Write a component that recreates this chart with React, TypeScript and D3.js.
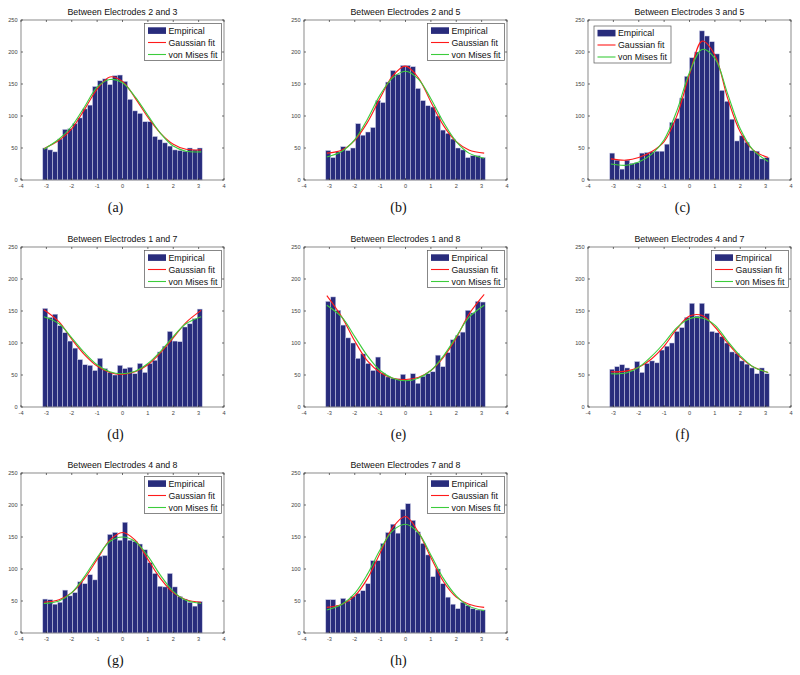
import React from "react";
import * as d3 from "d3";

const titles = [
  "Between Electrodes 2 and 3",
  "Between Electrodes 2 and 5",
  "Between Electrodes 3 and 5",
  "Between Electrodes 1 and 7",
  "Between Electrodes 1 and 8",
  "Between Electrodes 4 and 7",
  "Between Electrodes 4 and 8",
  "Between Electrodes 7 and 8",
];
const panelLabels = ["(a)", "(b)", "(c)", "(d)", "(e)", "(f)", "(g)", "(h)"];
const legendSide = ["ne", "ne", "nw", "ne", "ne", "ne", "ne", "ne"];

const xTicks = [-4, -3, -2, -1, 0, 1, 2, 3, 4];
const yTicks = [0, 50, 100, 150, 200, 250];
const legendItems = ["Empirical", "Gaussian fit", "von Mises fit"];

// 32 histogram bins over [-pi, pi]
const countsA = [50, 47, 44, 64, 79, 80, 88, 97, 111, 117, 146, 155, 158, 149, 163, 164, 154, 126, 108, 104, 91, 91, 68, 63, 58, 53, 47, 46, 45, 50, 47, 50];
const countsB = [46, 35, 44, 52, 46, 50, 88, 70, 75, 82, 124, 121, 153, 171, 165, 179, 179, 177, 143, 124, 116, 114, 100, 78, 73, 64, 50, 47, 35, 38, 38, 35];
const countsC = [42, 31, 17, 31, 26, 27, 42, 43, 44, 45, 45, 56, 90, 96, 128, 162, 191, 200, 233, 225, 216, 197, 140, 123, 95, 61, 69, 59, 46, 45, 33, 35];
const countsD = [154, 140, 145, 127, 116, 103, 92, 74, 66, 65, 57, 76, 60, 54, 50, 65, 60, 62, 52, 68, 54, 68, 73, 86, 95, 118, 103, 102, 125, 130, 138, 153];
const countsE = [165, 172, 151, 128, 108, 100, 76, 83, 68, 57, 78, 53, 47, 45, 44, 51, 43, 52, 37, 48, 52, 55, 81, 63, 85, 105, 112, 117, 151, 147, 165, 164];
const countsF = [59, 63, 66, 61, 57, 71, 54, 68, 72, 69, 89, 95, 100, 118, 124, 140, 162, 142, 162, 146, 118, 116, 110, 100, 86, 84, 72, 67, 61, 52, 61, 52];
const countsG = [53, 52, 45, 48, 67, 58, 63, 80, 77, 91, 83, 120, 121, 154, 157, 145, 173, 145, 143, 139, 130, 110, 93, 73, 72, 93, 72, 57, 53, 48, 42, 49];
const countsH = [52, 52, 43, 54, 50, 57, 62, 66, 77, 113, 113, 140, 157, 170, 156, 193, 202, 176, 158, 140, 122, 88, 100, 77, 56, 45, 38, 48, 43, 38, 36, 36];

// fitted curves read at these angles
const curveX = [-3.1, -2.5, -2, -1.5, -1, -0.5, 0, 0.5, 1, 1.5, 2, 2.5, 3.1];
const gaussA = [49, 62, 80, 110, 142, 161, 154, 128, 98, 73, 56, 48, 47];
const vonA = [48, 64, 84, 114, 145, 157, 152, 130, 101, 73, 53, 45, 44];
const gaussB = [42, 47, 62, 90, 128, 163, 178, 160, 122, 85, 60, 47, 42];
const vonB = [36, 45, 63, 95, 133, 160, 170, 158, 127, 90, 60, 42, 34];
const gaussC = [33, 31, 35, 44, 60, 100, 165, 217, 195, 128, 75, 47, 35];
const vonC = [25, 23, 28, 40, 63, 108, 168, 204, 190, 135, 80, 47, 29];
const gaussD = [152, 133, 106, 82, 64, 54, 51, 55, 66, 85, 108, 132, 151];
const vonD = [141, 130, 108, 85, 66, 55, 52, 56, 68, 87, 110, 130, 141];
const gaussE = [174, 140, 103, 72, 54, 45, 43, 46, 57, 78, 108, 145, 176];
const vonE = [159, 140, 110, 80, 57, 45, 41, 45, 57, 80, 110, 140, 159];
const gaussF = [55, 56, 62, 75, 95, 122, 142, 143, 125, 100, 78, 63, 54];
const vonF = [52, 53, 62, 79, 100, 124, 138, 139, 128, 103, 80, 63, 54];
const gaussG = [48, 52, 63, 85, 115, 145, 157, 145, 115, 85, 63, 52, 48];
const vonG = [46, 50, 63, 88, 118, 143, 150, 143, 120, 90, 65, 51, 46];
const gaussH = [40, 45, 58, 85, 125, 165, 182, 158, 118, 80, 56, 45, 40];
const vonH = [36, 45, 62, 92, 130, 160, 170, 157, 122, 85, 58, 42, 35];

const allCounts = [countsA, countsB, countsC, countsD, countsE, countsF, countsG, countsH];
const allGauss = [gaussA, gaussB, gaussC, gaussD, gaussE, gaussF, gaussG, gaussH];
const allVon = [vonA, vonB, vonC, vonD, vonE, vonF, vonG, vonH];

const colLeft = [21, 304, 588];
const rowTop = [20, 247, 473];
const W = 203;
const H = 160;

const BAR = "#282c7c";
const RED = "#ff1a1a";
const GREEN = "#3ccc3c";
const FONT = "Liberation Sans, Arial, Helvetica, sans-serif";

function Panel({ idx }: { idx: number }) {
  const left = colLeft[idx % 3];
  const top = rowTop[Math.floor(idx / 3)];
  const x = d3.scaleLinear().domain([-4, 4]).range([0, W]);
  const y = d3.scaleLinear().domain([0, 250]).range([H, 0]);
  const counts = allCounts[idx];
  const n = counts.length;
  const binW = (2 * Math.PI) / n;
  const line = d3
    .line<number>()
    .x((_, i) => x(curveX[i]))
    .y((v) => y(v))
    .curve(d3.curveCatmullRom.alpha(0.5));

  const lgW = 77;
  const lgH = 37;
  const lgX = legendSide[idx] === "ne" ? W - lgW - 2.5 : 6;
  const lgY = legendSide[idx] === "ne" ? 3.5 : 6;

  return (
    <g transform={`translate(${left},${top})`}>
      <rect x={0} y={0} width={W} height={H} fill="#fff" />
      {counts.map((c, i) => {
        const x0 = x(-Math.PI + i * binW);
        const x1 = x(-Math.PI + (i + 1) * binW);
        return (
          <rect
            key={i}
            x={x0}
            y={y(c)}
            width={x1 - x0}
            height={y(0) - y(c)}
            fill={BAR}
            stroke="#c9cbe6"
            strokeWidth={0.5}
          />
        );
      })}
      <path d={line(allGauss[idx]) || ""} fill="none" stroke={RED} strokeWidth={1.1} />
      <path d={line(allVon[idx]) || ""} fill="none" stroke={GREEN} strokeWidth={1.1} />
      <rect x={0} y={0} width={W} height={H} fill="none" stroke="#6e6e6e" strokeWidth={0.8} />
      {xTicks.map((t) => (
        <g key={"x" + t}>
          <line x1={x(t)} x2={x(t)} y1={H} y2={H - 2} stroke="#333" strokeWidth={0.7} />
          <line x1={x(t)} x2={x(t)} y1={0} y2={2} stroke="#333" strokeWidth={0.7} />
          <text
            x={x(t)}
            y={H + 5.5}
            fontSize={5.6}
            fontFamily={FONT}
            fill="#444"
            textAnchor="middle"
            dominantBaseline="central"
          >
            {t}
          </text>
        </g>
      ))}
      {yTicks.map((t) => (
        <g key={"y" + t}>
          <line x1={0} x2={2} y1={y(t)} y2={y(t)} stroke="#333" strokeWidth={0.7} />
          <line x1={W} x2={W - 2} y1={y(t)} y2={y(t)} stroke="#333" strokeWidth={0.7} />
          <text
            x={-3.5}
            y={y(t)}
            fontSize={5.6}
            fontFamily={FONT}
            fill="#444"
            textAnchor="end"
            dominantBaseline="central"
          >
            {t}
          </text>
        </g>
      ))}
      <text
        x={W / 2}
        y={-8.5}
        fontSize={8.8}
        fontFamily={FONT}
        fill="#111"
        textAnchor="middle"
        dominantBaseline="central"
      >
        {titles[idx]}
      </text>
      <g transform={`translate(${lgX},${lgY})`}>
        <rect x={0} y={0} width={lgW} height={lgH} fill="#fff" stroke="#555" strokeWidth={0.7} />
        <rect x={3.5} y={3.8} width={18} height={6.6} fill={BAR} />
        <line x1={3.5} x2={21.5} y1={19} y2={19} stroke={RED} strokeWidth={1.1} />
        <line x1={3.5} x2={21.5} y1={31} y2={31} stroke={GREEN} strokeWidth={1.1} />
        {legendItems.map((s, i) => (
          <text
            key={s}
            x={24}
            y={7.2 + i * 12}
            fontSize={8.8}
            fontFamily={FONT}
            fill="#111"
            dominantBaseline="central"
          >
            {s}
          </text>
        ))}
      </g>
      <text
        x={W / 2 - 7}
        y={H + 27.5}
        fontSize={14}
        fontFamily="Liberation Serif, Times New Roman, serif"
        fill="#111"
        textAnchor="middle"
        dominantBaseline="central"
      >
        {panelLabels[idx]}
      </text>
    </g>
  );
}

export default function App() {
  return (
    <svg
      width={800}
      height={675}
      style={{ position: "absolute", left: 0, top: 0, background: "#fff" }}
    >
      <rect x={0} y={0} width={800} height={675} fill="#fff" />
      {titles.map((_, i) => (
        <Panel key={i} idx={i} />
      ))}
    </svg>
  );
}
